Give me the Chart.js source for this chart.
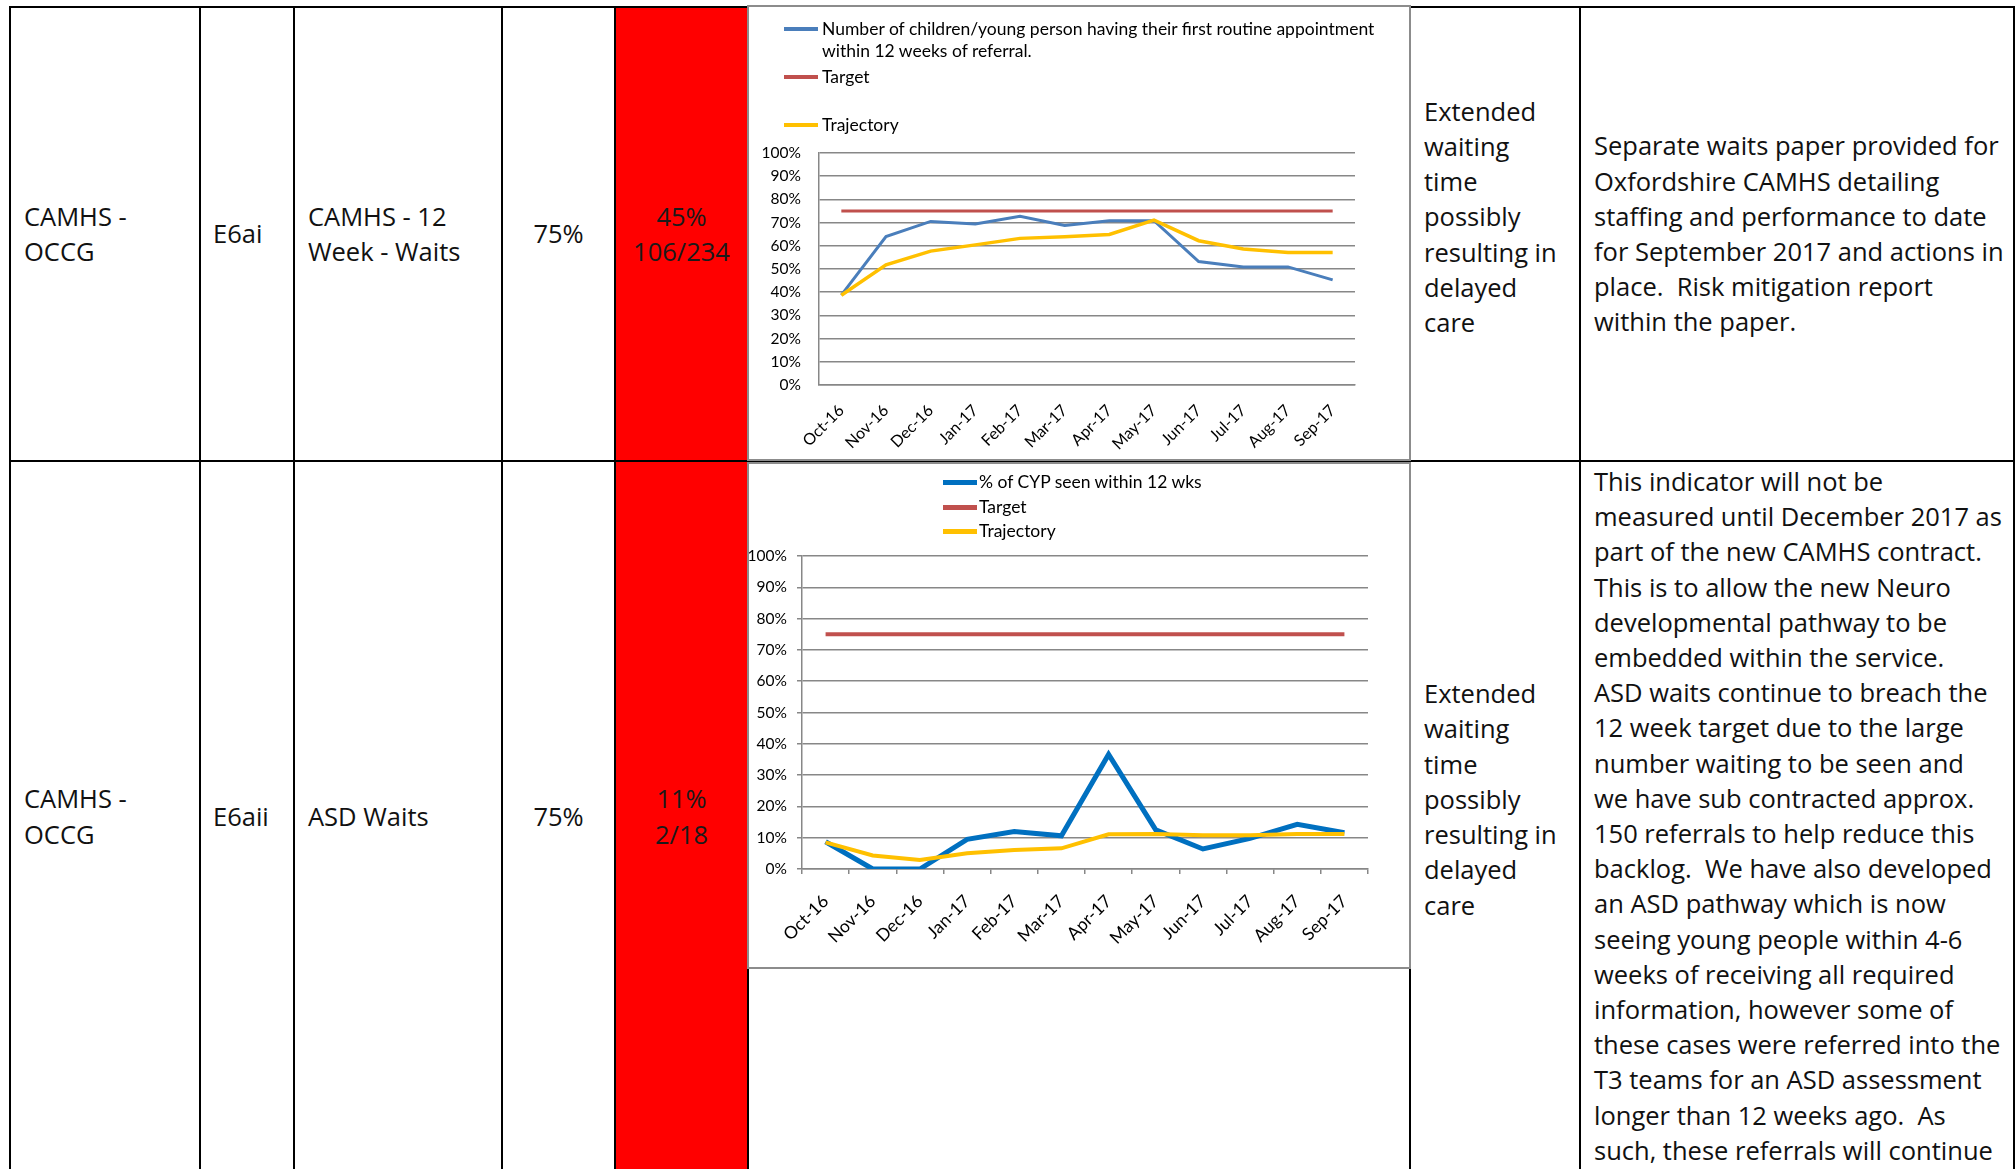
<!DOCTYPE html>
<html>
<head>
<meta charset="utf-8">
<script src="https://cdn.jsdelivr.net/npm/chart.js@4.4.1/dist/chart.umd.min.js"></script>
<style>
  html, body { margin: 0; padding: 0; background: #fff; }
  body {
    width: 2015px; height: 1169px; overflow: hidden; position: relative;
    font-family: 'Open Sans', 'Noto Sans', sans-serif;
    font-size: 25.5px; line-height: 35.2px; color: #111;
  }
  .cell {
    position: absolute; box-sizing: border-box; border: 2px solid #000;
    padding: 0 0 0 13px; display: flex; align-items: center; white-space: nowrap;
  }
  .center { justify-content: center; text-align: center; padding: 0; }
  .red { background: #ff0000; color: #1a1a1a; }
  .ext { padding-bottom: 34px; }
  .top { align-items: flex-start; padding-top: 2px; }
  .chart-box {
    position: absolute; box-sizing: border-box; border: 2px solid #8c8c8c; background: #fff;
  }
  .chart-box .canvas-wrap { position: absolute; left: 0; top: 0; right: 0; bottom: 0; }
  .legend-item {
    position: absolute; display: flex; align-items: flex-start;
    font-family: Lato, sans-serif; font-size: 17.5px; line-height: 22px; color: #000;
    white-space: normal;
  }
  .legend-item i { display: block; flex: none; width: 34px; }
</style>
</head>
<body>

<!-- row 1 -->
<div class="cell" style="left:9px;top:6px;width:192px;height:456px">CAMHS -<br>OCCG</div>
<div class="cell" style="left:199px;top:6px;width:96px;height:456px;padding-left:12px">E6ai</div>
<div class="cell" style="left:293px;top:6px;width:210px;height:456px">CAMHS - 12<br>Week - Waits</div>
<div class="cell center" style="left:501px;top:6px;width:115px;height:456px">75%</div>
<div class="cell center red" style="left:614px;top:6px;width:135px;height:456px">45%<br>106/234</div>
<div class="cell" style="left:747px;top:6px;width:664px;height:456px"></div>
<div class="cell ext" style="left:1409px;top:6px;width:172px;height:456px">Extended<br>waiting<br>time<br>possibly<br>resulting in<br>delayed<br>care</div>
<div class="cell" style="left:1579px;top:6px;width:436px;height:456px">Separate waits paper provided for<br>Oxfordshire CAMHS detailing<br>staffing and performance to date<br>for September 2017 and actions in<br>place.&nbsp; Risk mitigation report<br>within the paper.</div>

<!-- row 2 -->
<div class="cell" style="left:9px;top:460px;width:192px;height:713px">CAMHS -<br>OCCG</div>
<div class="cell" style="left:199px;top:460px;width:96px;height:713px;padding-left:12px">E6aii</div>
<div class="cell" style="left:293px;top:460px;width:210px;height:713px">ASD Waits</div>
<div class="cell center" style="left:501px;top:460px;width:115px;height:713px">75%</div>
<div class="cell center red" style="left:614px;top:460px;width:135px;height:713px">11%<br>2/18</div>
<div class="cell" style="left:747px;top:460px;width:664px;height:713px"></div>
<div class="cell ext" style="left:1409px;top:460px;width:172px;height:713px">Extended<br>waiting<br>time<br>possibly<br>resulting in<br>delayed<br>care</div>
<div class="cell top" style="left:1579px;top:460px;width:436px;height:713px">This indicator will not be<br>measured until December 2017 as<br>part of the new CAMHS contract.<br>This is to allow the new Neuro<br>developmental pathway to be<br>embedded within the service.<br>ASD waits continue to breach the<br>12 week target due to the large<br>number waiting to be seen and<br>we have sub contracted approx.<br>150 referrals to help reduce this<br>backlog.&nbsp; We have also developed<br>an ASD pathway which is now<br>seeing young people within 4-6<br>weeks of receiving all required<br>information, however some of<br>these cases were referred into the<br>T3 teams for an ASD assessment<br>longer than 12 weeks ago.&nbsp; As<br>such, these referrals will continue</div>

<!-- charts -->
<div class="chart-box" id="box-waits" style="left:747px;top:5px;width:664px;height:456px">
  <div class="canvas-wrap"><canvas id="chart-waits"></canvas></div>
</div>
<div class="chart-box" id="box-asd" style="left:747px;top:462px;width:664px;height:507px">
  <div class="canvas-wrap"><canvas id="chart-asd"></canvas></div>
</div>

<script>
// Months shared by both charts
const months = ['Oct-16', 'Nov-16', 'Dec-16', 'Jan-17', 'Feb-17', 'Mar-17',
                'Apr-17', 'May-17', 'Jun-17', 'Jul-17', 'Aug-17', 'Sep-17'];

// E6ai - CAMHS 12 week waits (%)
const waitsActual = [38.7, 64.0, 70.5, 69.4, 72.7, 68.8, 70.8, 70.8, 53.2, 50.9, 50.9, 45.3];
const waitsTarget = [75, 75, 75, 75, 75, 75, 75, 75, 75, 75, 75, 75];
const waitsTrajectory = [38.7, 51.8, 57.7, 60.4, 63.2, 63.9, 64.9, 71.1, 62.2, 58.6, 57.1, 57.1];

// E6aii - ASD waits (%)
const asdActual = [8.7, 0, 0, 9.5, 12.0, 10.6, 36.6, 12.5, 6.4, 9.8, 14.3, 11.6];
const asdTarget = [75, 75, 75, 75, 75, 75, 75, 75, 75, 75, 75, 75];
const asdTrajectory = [8.5, 4.3, 2.9, 5.0, 6.1, 6.6, 11.1, 11.2, 10.8, 10.8, 11.2, 11.2];

const yTicks = [0, 10, 20, 30, 40, 50, 60, 70, 80, 90, 100];

const gridColor = '#878787';
const chartFont = 'Lato, sans-serif';

// Builds the line chart options; sizes are fixed so the plot sits where the original did
function lineOptions(cfg) {
  return {
    responsive: true,
    maintainAspectRatio: false,
    animation: false,
    layout: { padding: { top: cfg.padTop, right: cfg.padRight, left: 0, bottom: 0 } },
    plugins: { legend: { display: false }, tooltip: { enabled: false } },
    elements: { point: { radius: 0 }, line: { tension: 0 } },
    scales: {
      x: {
        offset: true,
        grid: {
          display: cfg.ticks, offset: true, drawOnChartArea: false,
          drawTicks: cfg.ticks, tickLength: 5, color: gridColor, lineWidth: 1.5
        },
        border: { display: true, color: gridColor, width: 1.5 },
        ticks: {
          autoSkip: false, minRotation: 45, maxRotation: 45,
          padding: cfg.xPad, color: '#000', font: { family: chartFont, size: cfg.xFont }
        },
        afterFit: s => { s.height = cfg.xHeight; }
      },
      y: {
        min: 0, max: 100,
        afterBuildTicks: s => { s.ticks = yTicks.map(v => ({ value: v })); },
        grid: { color: gridColor, lineWidth: 1.5, drawTicks: cfg.ticks, tickLength: 5 },
        border: { display: true, color: gridColor, width: 1.5 },
        ticks: {
          padding: cfg.yPad, color: '#000', font: { family: chartFont, size: 15.5 },
          callback: v => v + '%'
        },
        afterFit: s => { s.width = cfg.yWidth; }
      }
    }
  };
}

// Legend drawn as html from the chart's own datasets
function addLegend(chart, boxId, spots) {
  const box = document.getElementById(boxId);
  chart.data.datasets.forEach((ds, i) => {
    const item = document.createElement('div');
    item.className = 'legend-item';
    item.style.left = spots.left + 'px';
    item.style.top = spots.tops[i] + 'px';
    item.style.width = spots.width + 'px';
    const m = (22 - spots.mark) / 2;
    item.innerHTML = `<i style="background:${ds.borderColor};height:${spots.mark}px;margin:${m}px ${spots.gap}px 0 0"></i><span>${ds.label}</span>`;
    box.appendChild(item);
  });
}

const waitsChart = new Chart(document.getElementById('chart-waits'), {
  type: 'line',
  data: {
    labels: months,
    datasets: [
      { label: 'Number of children/young person having their first routine appointment within 12 weeks of referral.',
        data: waitsActual, borderColor: '#4a7ebb', borderWidth: 3, order: 1 },
      { label: 'Target', data: waitsTarget, borderColor: '#c0504d', borderWidth: 3, order: 2 },
      { label: 'Trajectory', data: waitsTrajectory, borderColor: '#ffc000', borderWidth: 3.5, order: 0 }
    ]
  },
  options: lineOptions({ padTop: 146, padRight: 54, xHeight: 74, yWidth: 70, ticks: false, xPad: 16, yPad: 18, xFont: 16 })
});
addLegend(waitsChart, 'box-waits', { left: 35, gap: 4, width: 600, mark: 3.5, tops: [11, 59, 107] });

const asdChart = new Chart(document.getElementById('chart-asd'), {
  type: 'line',
  data: {
    labels: months,
    datasets: [
      { label: '% of CYP seen within 12 wks', data: asdActual, borderColor: '#0070c0', borderWidth: 5, order: 1 },
      { label: 'Target', data: asdTarget, borderColor: '#c0504d', borderWidth: 4, order: 2 },
      { label: 'Trajectory', data: asdTrajectory, borderColor: '#ffc000', borderWidth: 4, order: 0 }
    ]
  },
  options: lineOptions({ padTop: 92, padRight: 41, xHeight: 98, yWidth: 53, ticks: true, xPad: 17, yPad: 10, xFont: 17.5 })
});
addLegend(asdChart, 'box-asd', { left: 194, gap: 2, width: 400, mark: 5, tops: [7, 32, 56] });
</script>
</body>
</html>
